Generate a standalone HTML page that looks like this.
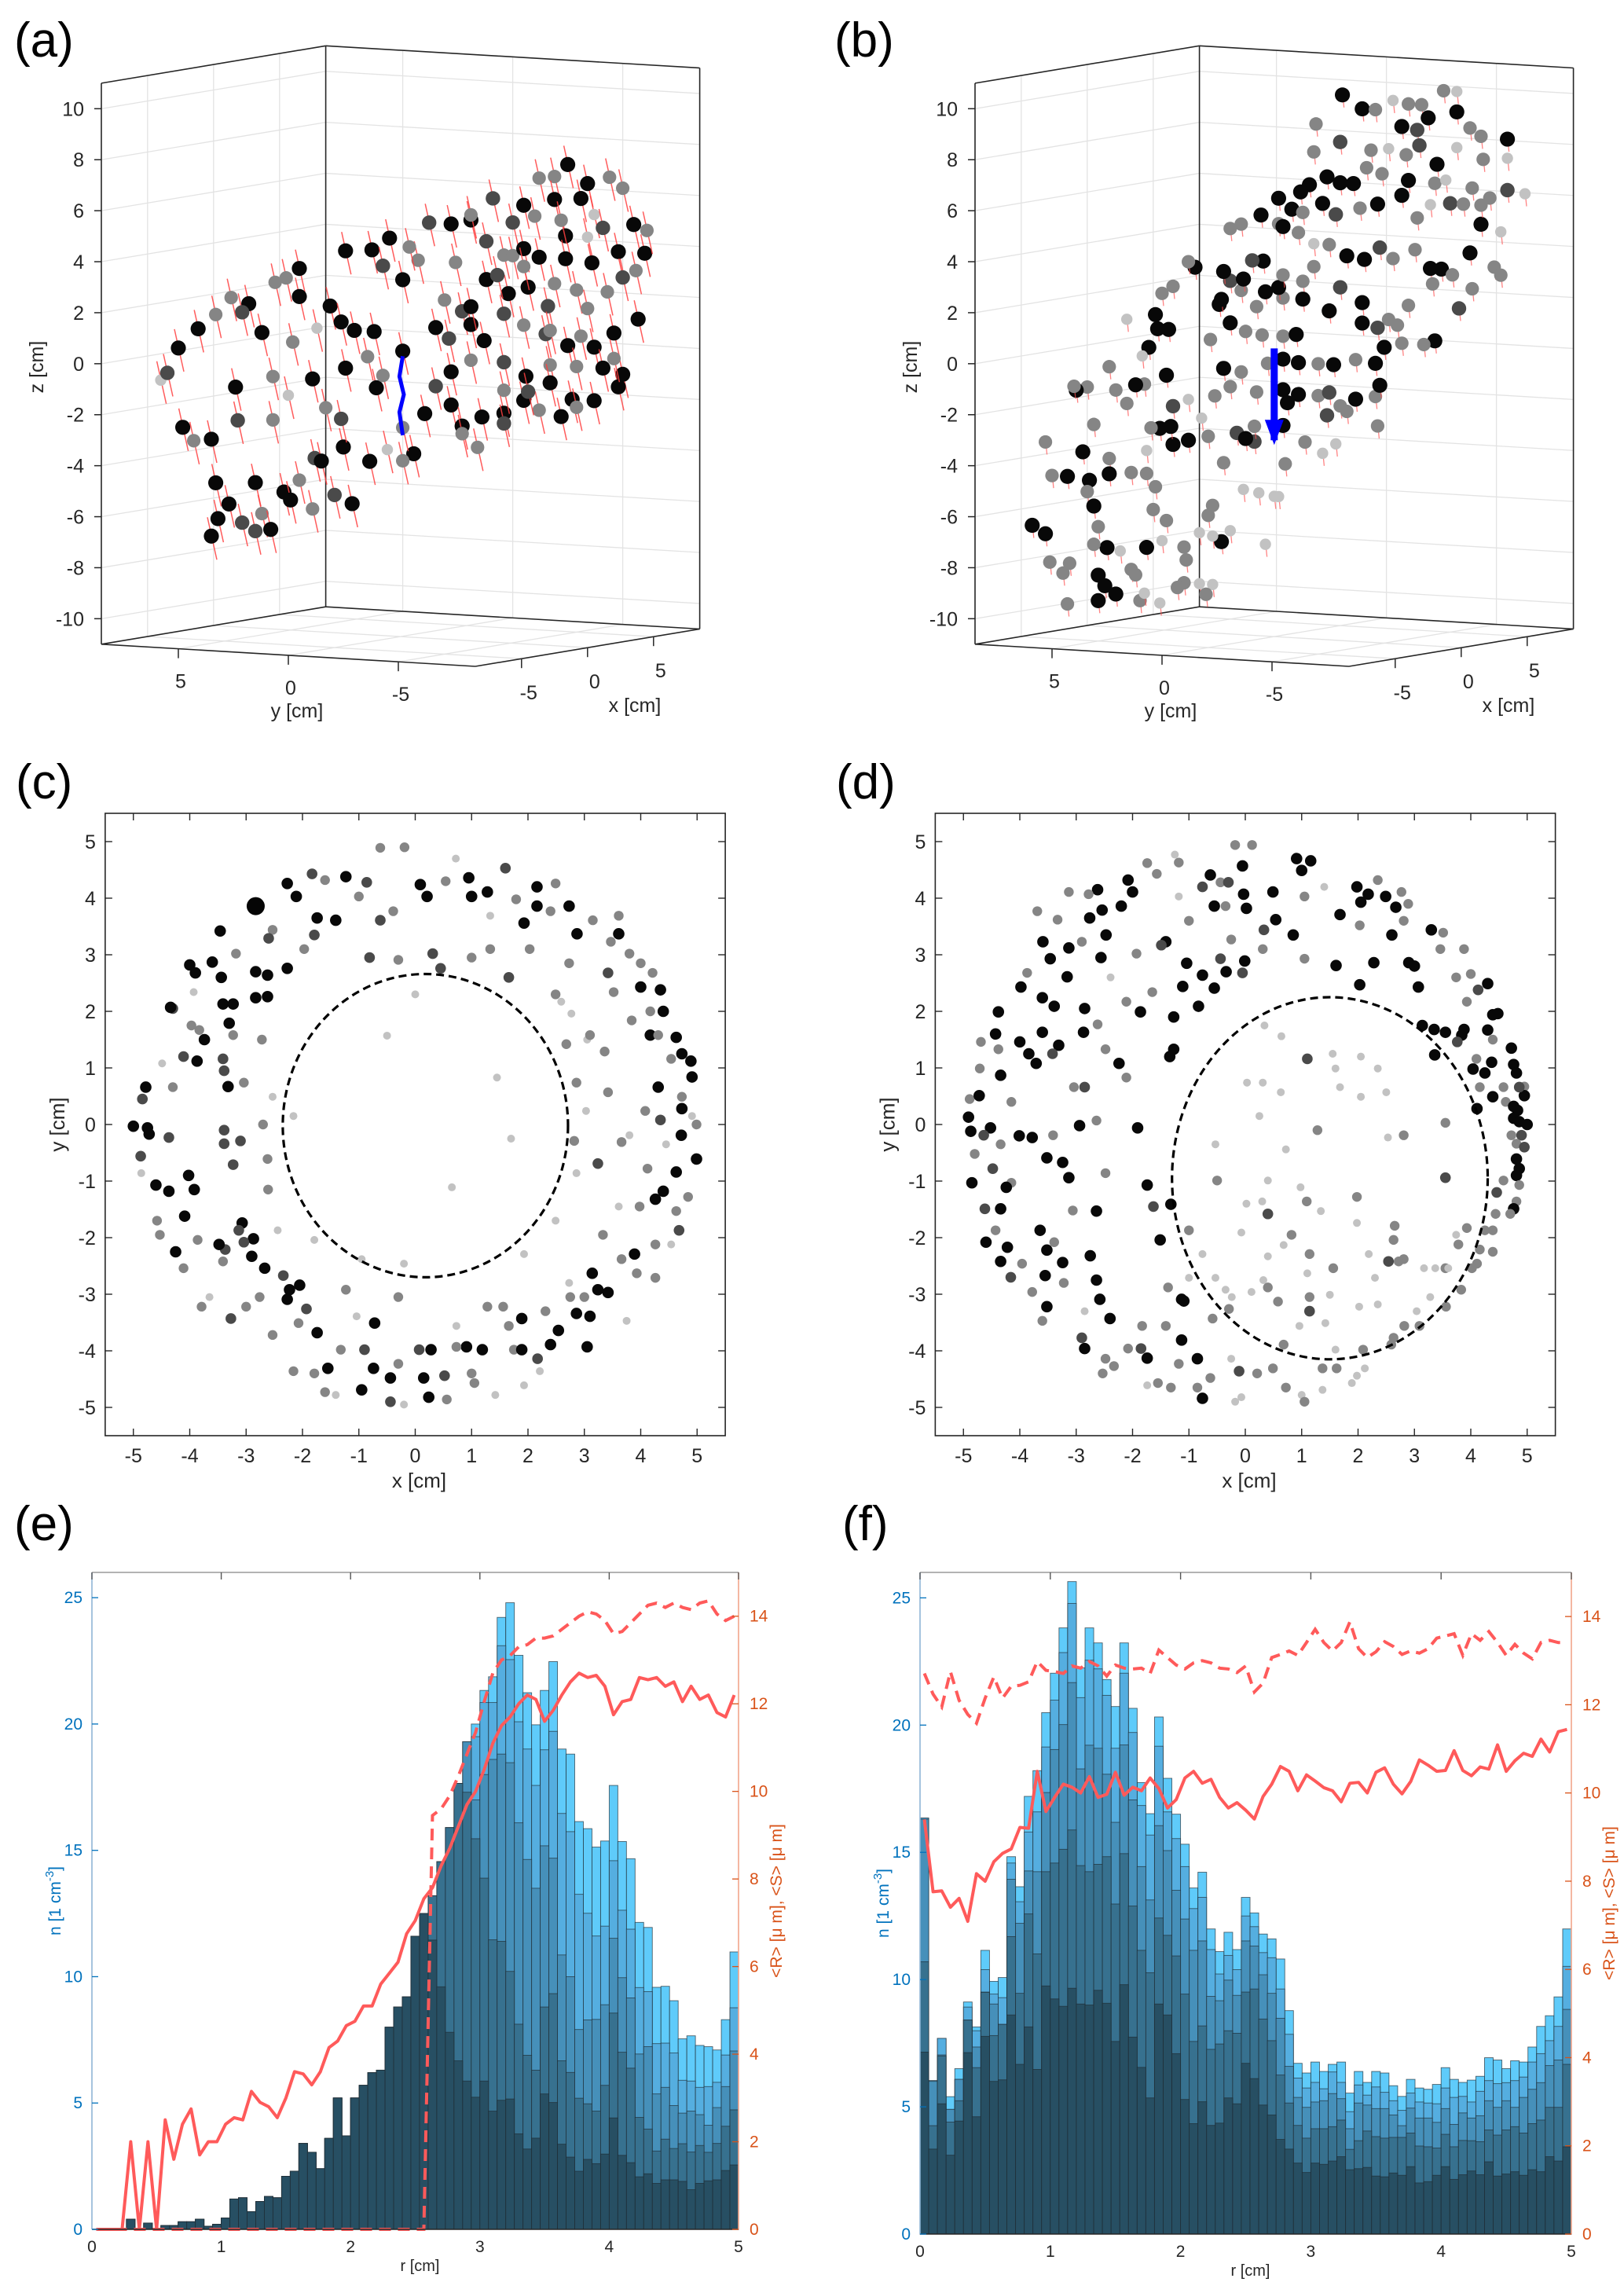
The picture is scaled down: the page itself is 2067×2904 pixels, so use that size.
<!DOCTYPE html>
<html><head><meta charset="utf-8"><title>Figure</title>
<style>html,body{margin:0;padding:0;background:#fff}svg{display:block;font-family:"Liberation Sans",sans-serif}</style>
</head><body>
<svg id="fig" xmlns="http://www.w3.org/2000/svg" width="2067" height="2904" viewBox="0 0 2067 2904"></svg>
<script>
// ---------- DATA ----------
const shadeColors=['#080808','#4a4a4a','#858585','#c2c2c2'];
// panel (a): [y, z, shade] with x = 0
const ptsA=[[10.9,-1.5,3],[10.6,-1.2,1],[10.1,-0.2,0],[9.9,-3.3,0],[9.4,-3.8,2],[9.2,0.6,0],[8.6,-3.7,0],[8.4,-5.4,0],[8.6,-7.5,0],[8.3,-6.8,0],[7.8,-6.2,0],[7.5,-1.6,0],[7.4,-2.9,1],[7.2,-6.9,1],[6.6,-5.3,0],[6.6,-7.2,1],[6.3,-6.5,2],[5.9,-7.1,0],[6.3,0.6,0],[6.9,1.7,0],[7.2,1.35,1],[7.7,1.9,2],[8.4,1.2,2],[5.8,-1.1,2],[5.3,-5.6,0],[5.0,-5.9,0],[4.6,-5.1,2],[4.0,-6.2,2],[3.9,-4.2,1],[4.0,-1.1,0],[4.6,3.2,0],[5.2,2.8,2],[5.7,2.6,2],[5.8,-2.8,2],[4.6,2.1,0],[3.8,0.9,3],[3.2,1.8,0],[3.6,-4.3,0],[3.0,-5.6,1],[2.2,-5.9,0],[2.6,-3.7,0],[2.7,-2.6,1],[3.4,-2.2,2],[4.9,0.3,2],[5.1,-1.8,3],
[2.5,4.0,0],[1.3,4.1,0],[0.5,4.6,0],[0.8,3.5,1],[-0.1,3.0,0],[2.7,1.2,0],[2.1,0.9,0],[1.2,0.9,0],[2.5,-0.6,0],[1.5,-0.1,2],[1.1,-1.3,0],[0.8,-0.8,2],[-0.1,0.2,0],[-0.6,-3.8,0],[-1.1,-2.2,0],[-0.1,-2.8,2],[0.6,-3.7,3],[1.4,-4.2,0],[-0.1,-4.1,2],[-1.6,1.2,0],[-2.2,0.8,1],[-2.3,-0.5,0],[-1.6,-1.1,1],[-2.3,-1.8,0],[-2.8,-2.6,0],[-2.0,2.3,2],[-2.8,1.9,1],[-3.2,1.4,0],[-0.8,3.8,2],[-1.3,5.3,1],[-2.3,5.3,0],[-3.2,5.5,0],[-3.9,4.7,1],[-4.7,4.2,2],
[-7.6,7.9,0],[-8.5,7.2,0],[-9.5,7.5,2],[-10.1,7.1,2],[-7.0,7.4,2],[-6.3,7.3,2],[-8.2,6.6,0],[-8.8,6.0,3],[-7.0,6.5,0],[-5.6,6.2,0],[-4.2,6.4,1],[-3.2,5.7,2],[-5.1,5.5,1],[-6.1,5.8,2],[-7.5,5.1,0],[-8.5,5.1,3],[-9.9,4.6,0],[-10.6,5.7,0],[-11.1,4.6,0],[-11.2,5.5,2],[-10.7,3.9,2],[-10.1,3.6,1],[-8.7,4.1,0],[-7.5,4.2,0],[-6.3,4.2,0],[-5.1,4.2,2],[-3.9,3.2,0],[-4.9,2.7,0],[-5.8,3.0,0],[-7.0,3.2,2],[-8.0,3.0,2],[-9.4,3.0,2],[-10.8,2.0,0],[-9.7,1.4,0],[-8.8,0.8,0],[-7.6,0.8,0],[-6.6,1.2,1],[-5.6,1.5,2],[-4.7,1.9,1],[-3.2,2.1,0],[-3.8,0.8,0],[-4.7,0.0,1],[-5.7,-0.5,0],[-6.8,0.0,2],[-8.0,0.0,2],[-9.2,0.0,0],[-10.1,-0.2,0],[-9.9,-0.7,0],[-8.8,-1.3,0],[-7.8,-1.3,0],[-6.8,-0.7,0],[-5.6,-1.45,0],[-4.7,-2.0,0],[-3.7,-2.2,0],[-2.8,-2.9,2],[-3.5,-3.4,2],[-4.7,-2.4,1],[-6.3,-1.8,2],[-7.3,-2.0,0],[-8.0,-1.6,2],[-5.8,-1.1,1],[-4.7,-1.1,2],[-4.4,3.4,1],[-6.7,2.3,1],[-5.6,4.5,0],[-7.3,5.7,2],[-9.2,5.5,1],[-5.6,3.8,2],[-8.5,2.3,2],[-3.2,0.0,2],[-6.8,1.35,2],[-8.2,1.2,2],[-9.7,0.4,2],[-2.5,3.8,2],[-0.4,4.3,2]];
const blueA_y=[-0.1,0.05,-0.15,0.05,-0.1];
const blueA_z=[0.0,-0.8,-1.5,-2.2,-3.1];
// panel (b): [y, z, shade] with x = 0
const ptsB=[[-3.1,10.4,0],[-4.0,9.9,0],[-4.6,9.9,2],[-5.4,10.3,3],[-6.1,10.2,2],[-6.7,10.2,2],[-7.0,9.7,0],[-5.8,9.3,0],[-6.5,9.2,1],[-7.7,10.8,2],[-8.3,10.8,3],[-8.3,10.0,0],[-8.9,9.4,2],[-9.4,9.1,2],[-10.6,9.05,0],[-10.6,8.3,3],[-9.5,8.2,2],[-8.3,8.6,3],[-7.4,7.9,0],[-6.6,8.6,1],[-6.0,8.2,2],[-5.2,8.4,3],[-4.4,8.3,2],[-3.0,8.55,1],[-1.8,8.1,2],[-1.9,9.2,2],[-4.2,7.6,2],[-4.9,7.4,2],[-6.1,7.2,0],[-7.3,7.15,2],[-7.8,7.3,3],[-9.0,7.05,2],[-9.8,6.7,2],[-11.4,6.95,3],[-10.6,7.05,1],[-3.6,6.95,0],[-3.0,6.95,0],[-2.4,7.15,0],[-1.6,6.8,0],[-1.2,6.5,0],[-2.2,6.1,0],[-2.8,5.7,1],[-3.9,6.0,2],[-4.7,6.2,0],[-5.8,6.6,0],[-6.5,5.75,2],[-7.1,6.3,3],[-8.0,6.4,1],[-8.6,6.4,2],[-9.4,5.65,0],[-9.4,6.4,2],[-10.3,5.4,3],[-0.8,5.8,0],[-0.2,6.2,0],[0.6,5.5,0],[-0.2,5.2,2],[-0.4,5.1,0],[-1.3,5.7,2],[-1.1,4.9,2],[-1.8,4.5,3],[-2.5,4.5,2],[-3.3,4.1,0],[-4.1,4.0,0],[-4.8,4.5,1],[-5.4,4.1,2],[-6.4,4.5,2],[-7.1,3.8,0],[-7.6,3.8,0],[-8.1,3.6,2],[-8.9,4.5,0],[-9.0,3.1,2],[-10.0,4.0,2],[-10.3,3.7,2],[-8.4,2.3,1],[-7.2,3.2,2],[-6.1,2.3,2],[-5.2,1.7,2],[-4.0,2.3,0],[-3.0,2.85,1],[-1.8,3.6,2],[-1.3,3.0,2],[-0.4,2.3,2],[-1.3,2.3,0],[-2.5,1.9,0],[-4.0,1.5,0],[-4.7,1.35,1],[-5.6,1.5,2],[-7.3,0.97,0],[-6.8,0.8,2],[-5.8,0.8,2],[-5.0,0.6,0],[-4.6,-0.05,0],[-3.7,0.05,2],[-2.7,-0.2,0],[-2.0,-0.2,2],[-1.1,-0.2,0],[-0.4,-0.1,0],[-0.4,0.8,2],[-1.0,0.9,0],[0.55,0.8,2],[1.3,0.9,2],[2.0,1.2,0],[2.5,1.9,0],[2.4,2.1,0],[0.4,2.5,0],[-0.2,2.7,0],[0.8,1.9,2],[1.5,2.5,2],[2.0,2.85,1],[2.3,3.2,0],[1.4,2.95,0],[0.5,3.7,0],[1.0,3.7,1],[-0.4,3.2,2],[2.0,4.9,2],[1.5,5.1,2],[3.6,3.3,0],[3.9,3.5,2],[5.1,2.2,2],[4.6,2.5,2],[5.4,1.35,0],[5.3,0.8,0],[4.8,0.8,0],[5.7,0.05,0],[6.7,1.1,3],[2.9,0.5,2],[2.3,-0.6,0],[2.0,-1.3,2],[1.5,-0.7,2],[0.8,-1.45,2],[0.3,-0.3,2],[-0.4,-1.3,0],[-0.6,-1.8,0],[-1.1,-1.45,0],[-2.0,-1.45,2],[-2.5,-1.3,1],[-3.0,-1.8,2],[-3.7,-1.5,0],[-4.6,-1.35,2],[-4.8,-0.9,0],[-4.7,-2.5,2],[-2.4,-2.2,1],[-3.3,-2.0,2],[-1.4,-3.3,2],[-2.2,-3.7,3],[-2.8,-3.3,3],[-0.5,-4.2,2],[0.7,-5.4,3],[0.0,-5.5,3],[0.9,-3.4,1],[1.7,-3.1,1],[1.3,-3.3,0],[-0.4,-2.7,0],[0.9,-2.8,2],[3.0,-3.3,2],[2.3,-4.3,2],[2.7,-1.7,2],[3.3,-2.6,3],[3.9,-1.9,3],[3.9,-3.5,0],[4.6,-3.7,0],[4.7,-3.0,0],[5.2,-3.1,0],[5.6,-3.1,2],[5.8,-4.0,3],[4.6,-2.2,1],[4.9,-1.0,0],[5.9,-1.4,2],[6.3,-1.45,0],[6.7,-2.2,2],[7.2,-1.7,2],[8.5,-1.65,2],[9.0,-1.8,0],[9.1,-1.65,2],[7.5,-0.8,2],[6.0,-0.3,3],[8.2,-3.1,2],[8.7,-4.2,0],[10.1,-5.2,2],[10.4,-3.9,2],[9.4,-5.2,0],[8.4,-5.3,0],[8.5,-5.75,2],[8.2,-6.3,0],[8.0,-7.1,2],[7.5,-4.4,2],[7.5,-5.0,0],[6.5,-4.9,2],[5.8,-4.9,2],[5.4,-5.4,2],[5.5,-6.3,2],[4.9,-6.7,2],[4.1,-7.7,2],[4.0,-8.2,2],[5.8,-7.8,0],[5.1,-7.5,3],[7.6,-7.9,0],[8.2,-7.8,2],[7.0,-8.0,3],[11.0,-7.2,0],[10.4,-7.5,0],[10.2,-8.6,2],[9.6,-9.0,2],[9.3,-8.6,2],[8.0,-9.0,0],[7.7,-9.4,0],[7.2,-9.7,0],[8.0,-10.0,0],[9.4,-10.2,2],[6.5,-8.7,2],[6.3,-8.9,2],[6.1,-9.9,2],[5.9,-9.6,3],[5.2,-9.95,3],[4.1,-9.1,2],[4.4,-9.3,2],[3.4,-9.1,3],[2.8,-9.1,3],[3.1,-9.5,2],[2.4,-7.4,0],[2.8,-7.2,3],[3.4,-7.1,3],[2.8,-6.0,2],[3.0,-6.4,2],[2.0,-6.95,3],[0.4,-7.4,3],[-0.2,-5.5,3],[1.4,-5.3,3]];
const blueB_y=[0.0,0.0];
const blueB_z=[0.3,-3.3];
// panel (c): [x, y, shade]
const ptsC=[[-2.27,4.26,0],[-2.11,4.03,0],[-1.83,4.43,1],[-1.23,4.38,0],[-0.86,4.28,1],[-0.62,4.89,2],[-0.19,4.9,2],[0.09,4.24,0],[0.21,4.03,0],[0.72,4.7,3],[0.95,4.36,0],[1.0,4.03,0],[1.28,4.11,0],[1.6,4.53,1],[1.79,3.98,2],[1.93,3.56,0],[2.16,4.2,0],[2.49,4.26,2],[2.16,3.86,0],[2.73,3.86,0],[2.87,3.37,0],[3.15,3.61,2],[3.61,3.37,0],[3.47,3.23,2],[3.8,3.02,2],[4.0,2.85,2],[4.0,2.43,0],[4.35,2.38,0],[4.4,2.0,0],[4.17,2.0,2],[3.84,1.84,2],[4.17,1.58,0],[4.63,1.54,0],[4.73,1.25,0],[4.89,1.12,0],[4.91,0.84,0],[4.31,0.66,0],[4.73,0.28,0],[4.99,0.0,2],[4.72,-0.19,0],[4.99,-0.61,0],[4.63,-0.84,0],[4.4,-1.18,0],[4.26,-1.32,0],[3.98,-1.45,2],[3.89,-2.29,0],[3.93,-2.63,2],[3.42,-2.97,0],[3.14,-2.63,0],[3.24,-2.92,0],[3.0,-3.05,2],[3.1,-3.39,0],[2.86,-3.34,0],[2.54,-3.64,0],[2.4,-3.89,0],[3.05,-3.93,0],[2.17,-4.14,1],[1.89,-3.98,0],[1.89,-3.43,0],[1.19,-3.98,0],[0.91,-3.93,0],[0.73,-3.93,2],[0.52,-4.44,1],[0.15,-4.48,0],[0.24,-4.82,0],[0.56,-4.86,2],[0.28,-3.98,0],[0.07,-3.98,1],[-0.44,-4.9,1],[-0.44,-4.48,0],[-0.95,-4.69,0],[-0.74,-4.31,0],[-0.9,-3.98,1],[-0.72,-3.51,0],[-1.55,-4.31,0],[-1.74,-3.68,0],[-2.07,-3.51,2],[-1.93,-3.26,1],[-2.27,-3.09,0],[-2.23,-2.92,0],[-2.05,-2.84,0],[-2.34,-2.67,1],[-2.67,-2.54,0],[-2.9,-2.33,0],[-2.87,-2.02,0],[-3.07,-1.74,0],[-3.13,-1.87,1],[-3.37,-2.21,1],[-3.48,-2.12,0],[-4.25,-2.25,0],[-4.09,-1.62,0],[-4.02,-0.9,0],[-3.92,-1.15,0],[-4.37,-1.18,0],[-4.6,-1.07,0],[-4.87,-0.56,1],[-4.72,-0.17,0],[-5.0,-0.03,0],[-4.75,-0.06,0],[-4.84,0.45,1],[-4.78,0.66,0],[-4.37,-0.23,1],[-3.39,-0.1,1],[-3.39,-0.34,1],[-3.23,-0.71,1],[-3.1,-0.29,1],[-3.32,0.67,0],[-3.39,0.95,1],[-3.41,1.16,1],[-3.74,1.5,0],[-3.87,1.12,0],[-4.11,1.2,1],[-4.3,2.05,1],[-4.34,2.07,0],[-3.97,1.75,2],[-3.41,2.13,0],[-3.23,2.13,0],[-3.3,1.79,0],[-3.44,2.6,0],[-3.6,2.87,0],[-4.0,2.82,0],[-3.9,2.68,0],[-3.46,3.42,0],[-2.83,2.7,0],[-2.83,2.24,0],[-2.62,2.64,0],[-2.62,2.26,0],[-2.27,2.76,0],[-2.6,3.29,1],[-1.79,3.35,1],[-1.74,3.65,0],[-1.41,3.61,0],[-0.62,3.61,1],[-0.3,2.91,2],[-0.81,2.95,1],[-2.72,1.5,2],[-3.04,0.74,2],[-2.62,-0.61,2],[-2.61,-1.15,2],[-3.04,-2.08,1],[-3.41,-2.42,2],[-3.86,-2.04,2],[-4.53,-1.95,2],[-3.79,-3.22,2],[-3.27,-3.43,1],[-2.76,-3.05,2],[-1.23,-2.92,2],[-1.04,-3.39,3],[-0.3,-3.05,2],[-0.3,-4.23,2],[1.56,-3.22,2],[1.28,-3.22,2],[1.66,-3.56,2],[2.31,-3.3,2],[2.75,-3.05,2],[3.66,-2.38,2],[4.26,-2.12,2],[4.54,-2.12,3],[4.68,-1.87,1],[4.84,-1.28,2],[4.12,-0.78,2],[4.08,0.24,2],[4.35,0.08,1],[3.42,0.57,2],[3.03,0.24,3],[2.82,-0.29,2],[3.24,-0.69,1],[3.66,-0.31,2],[2.86,0.74,2],[3.1,1.58,2],[3.36,1.29,2],[2.68,1.42,2],[2.77,1.96,3],[2.49,2.3,2],[2.73,2.85,2],[2.03,3.1,2],[1.66,2.6,1],[1.33,3.1,2],[1.0,2.95,2],[0.45,2.76,1],[0.31,3.02,1],[3.42,2.68,1],[4.31,1.58,2],[4.73,0.49,2],[-1.79,-4.4,2],[-2.16,-4.36,2],[-1.41,-4.78,3],[1.05,-4.57,2],[1.42,-4.78,3],[2.21,-4.36,3],[1.93,-4.61,3],[-0.2,-4.95,3],[-0.5,1.57,3],[1.45,0.83,3],[1.7,-0.25,3],[0.65,-1.11,3],[0.0,2.3,3]];
const ptsC2=[[-1.6,4.32,2],[-1.0,4.03,2],[-0.39,3.77,2],[0.54,4.3,2],[1.33,3.69,3],[2.4,3.77,2],[3.61,3.69,2],[4.21,2.68,2],[4.54,1.16,2],[4.91,0.15,3],[4.45,-0.35,3],[4.63,-1.53,2],[3.61,-1.45,3],[3.33,-1.95,2],[4.26,-2.71,2],[3.75,-3.47,3],[2.73,-2.8,3],[1.75,-3.98,2],[0.73,-3.56,3],[1.0,-4.4,2],[-1.32,-3.98,2],[-1.6,-4.73,2],[-2.53,-3.72,2],[-3.0,-3.22,2],[-3.65,-3.05,3],[-4.11,-2.54,2],[-4.58,-1.7,2],[-4.86,-0.86,3],[-4.3,0.66,2],[-4.49,1.08,3],[-3.83,1.67,2],[-3.23,1.58,2],[-3.93,2.34,3],[-3.18,3.02,2],[-2.53,3.44,2],[-1.97,3.1,2],[-2.16,0.15,3],[-2.53,0.49,3],[-2.7,0.0,2],[-2.44,-1.87,3],[-1.79,-2.04,3],[-0.95,-2.38,3],[-0.2,-2.46,3],[1.93,-2.29,3],[2.49,-1.7,3],[2.86,-0.86,3],[3.05,1.5,3],[2.59,2.17,3],[3.52,2.34,2],[3.8,-0.19,3]];
const bigC=[[-2.83,3.86]];
const ellC_center=[0.18,-0.02], ellC_radii=[2.53,2.68];
// panel (d): [x, y, shade]
const ptsD=[[-0.18,4.94,2],[0.12,4.94,2],[0.91,4.7,0],[1.0,4.49,0],[1.16,4.66,0],[0.49,4.11,0],[-0.03,4.07,0],[0.02,3.82,0],[-0.05,4.57,0],[-0.62,4.41,0],[-0.3,4.28,1],[-0.76,4.2,1],[-0.55,3.86,0],[-1.25,4.77,3],[-1.18,4.63,2],[-1.57,4.43,2],[-2.08,4.32,0],[-2.0,4.11,0],[-2.2,3.86,0],[-2.62,4.15,0],[-2.78,4.07,2],[-2.54,3.79,0],[-2.76,3.65,0],[-3.33,3.62,2],[-3.59,3.23,0],[-3.13,3.12,0],[-3.46,2.93,0],[-2.9,3.23,2],[-2.47,3.35,0],[-2.56,2.95,0],[-3.6,2.24,0],[-3.39,2.09,0],[-3.16,2.61,0],[-2.85,2.05,0],[-2.62,1.77,2],[-2.87,1.63,0],[-3.31,1.4,0],[-3.6,1.63,0],[-4.0,1.46,0],[-3.84,1.25,0],[-3.71,1.08,0],[-3.42,1.25,1],[-3.98,2.43,0],[-4.38,1.99,0],[-4.43,1.6,0],[-4.69,1.46,2],[-4.89,0.45,2],[-4.91,0.13,0],[-4.87,-0.12,0],[-4.72,0.51,0],[-4.52,-0.06,0],[-4.34,0.87,0],[-4.15,0.4,2],[-4.01,-0.2,0],[-4.85,-1.03,0],[-4.64,-0.19,1],[-4.48,-0.78,1],[-4.24,-1.11,0],[-4.62,-1.49,1],[-4.6,-2.08,0],[-4.34,-1.49,0],[-4.22,-2.17,0],[-4.34,-2.42,0],[-4.16,-2.7,1],[-3.64,-1.87,0],[-3.52,-2.22,0],[-3.55,-2.67,0],[-3.52,-3.22,0],[-3.24,-2.44,0],[-3.13,-0.94,0],[-3.24,-0.67,0],[-3.52,-0.59,0],[-3.78,-0.23,0],[-2.94,-0.02,0],[-2.64,0.07,2],[-2.85,0.66,1],[-3.39,-2.08,2],[-3.06,-1.52,2],[-2.64,-1.53,0],[-2.75,-2.32,0],[-2.64,-2.75,0],[-2.58,-3.09,0],[-2.4,-3.43,0],[-2.9,-3.77,1],[-2.85,-3.96,0],[-3.6,-3.47,2],[-2.08,-3.96,2],[-1.85,-3.96,1],[-1.74,-4.13,0],[-2.33,-4.27,2],[-1.41,-3.56,2],[-1.13,-3.09,0],[-1.09,-3.12,0],[-0.85,-4.14,0],[-0.85,-4.65,2],[-0.76,-4.84,0],[-0.62,-4.48,2],[-0.11,-4.36,1],[-1.13,-3.81,0],[-1.51,-2.04,0],[-1.74,-1.07,0],[-1.32,-1.41,0],[-1.63,-1.45,1],[-1.91,-0.06,0],[-1.34,1.2,0],[-1.27,1.33,0],[-2.24,1.08,0],[-1.86,1.99,0],[-1.27,1.9,0],[-1.11,2.44,0],[-0.76,2.64,0],[-0.83,2.09,0],[-0.55,2.41,0],[-0.34,2.7,0],[-0.01,2.89,0],[-0.05,2.68,1],[-0.44,2.93,1],[-1.41,3.23,0],[-1.49,3.17,1],[-1.04,2.85,0],[0.54,3.62,0],[0.85,3.35,0],[0.33,3.44,1],[0.31,3.1,2],[1.05,2.93,2],[1.61,2.81,0],[1.98,4.2,0],[2.18,4.07,0],[2.05,3.93,0],[2.49,4.03,0],[2.67,3.84,0],[2.35,4.32,2],[2.77,4.11,2],[2.89,3.9,2],[1.68,3.71,0],[2.03,3.52,2],[2.28,2.86,0],[2.03,2.47,0],[2.6,3.35,0],[2.9,2.86,0],[3.0,2.8,0],[3.07,2.43,0],[3.3,3.44,0],[3.51,3.39,2],[3.88,3.1,2],[4.0,2.66,2],[4.3,2.49,0],[4.13,2.38,1],[3.14,1.75,0],[3.35,1.68,0],[3.55,1.63,0],[3.84,1.58,0],[3.88,1.68,0],[3.36,1.23,0],[3.76,1.46,1],[4.1,1.16,2],[4.04,0.98,0],[4.3,1.67,0],[4.39,1.94,0],[4.48,1.96,0],[4.25,0.91,0],[4.37,1.1,0],[4.72,1.35,0],[4.76,1.06,0],[4.81,0.91,0],[4.95,0.67,2],[4.95,0.51,0],[4.86,0.66,1],[4.39,0.49,0],[4.62,0.4,2],[4.76,0.32,0],[4.83,0.25,0],[5.0,0.0,0],[4.76,0.11,0],[4.86,0.05,0],[4.9,-0.19,1],[4.72,-0.19,2],[4.81,-0.34,2],[4.95,-0.4,1],[4.81,-0.61,0],[4.86,-0.78,0],[4.81,-0.9,0],[4.86,-1.07,2],[4.58,-0.99,2],[4.46,-1.2,1],[4.81,-1.36,2],[4.76,-1.49,0],[4.7,-1.58,2],[4.44,-1.58,2],[4.11,0.28,0],[4.16,0.66,2],[3.55,0.03,2],[3.93,-1.83,2],[4.11,-2.46,2],[4.16,-2.21,2],[3.74,-1.95,3],[3.78,-2.12,2],[4.25,-1.87,2],[4.39,-2.25,2],[4.02,-2.54,2],[3.83,-2.92,2],[3.6,-2.54,3],[3.37,-2.54,3],[3.17,-2.54,3],[3.28,-3.05,3],[3.56,-3.22,2],[3.04,-3.3,3],[2.82,-3.56,2],[2.63,-3.77,2],[2.59,-3.89,2],[2.81,-2.38,2],[2.65,-1.79,2],[2.54,-2.42,1],[2.72,-2.42,2],[0.34,1.75,3],[0.64,1.56,3],[1.1,1.16,1],[1.55,1.25,3],[2.05,1.2,3],[1.68,0.66,3],[1.28,-0.1,2],[0.63,0.57,3],[0.31,0.74,3],[0.03,0.74,3],[0.25,0.15,3],[0.72,-0.44,3],[0.4,-0.99,3],[0.3,-1.36,3],[0.4,-1.58,1],[0.98,-1.11,3],[1.09,-1.36,2],[1.34,-1.53,3],[1.98,-1.74,3],[1.98,-1.28,2],[2.19,-2.29,3],[2.63,-2.04,2],[2.81,-0.19,2],[2.53,-0.23,3],[3.55,-0.94,1],[2.5,0.57,3],[2.05,0.49,3],[1.6,0.99,3],[2.35,0.99,3],[0.82,-1.95,2],[0.68,-2.13,3],[1.14,-2.29,2],[1.56,-2.54,2],[1.1,-2.63,3],[1.5,-3.01,3],[1.14,-3.05,2],[1.14,-3.3,1],[0.58,-3.13,2],[0.96,-3.56,3],[1.42,-3.51,3],[2.02,-3.22,3],[2.35,-3.18,3],[2.3,-2.71,3],[-0.29,-3.26,2],[-0.35,-2.92,3],[-0.24,-3.05,3],[0.11,-2.96,3],[0.4,-2.88,2],[-0.58,-3.43,2],[-0.53,-2.71,3],[-1.0,-2.71,3],[-0.76,-2.29,3],[-0.5,-0.99,2],[-0.53,-0.35,3],[0.02,-1.4,3],[-0.07,-1.91,3],[0.4,-2.33,3],[0.32,-2.75,3],[0.49,-4.31,2],[0.72,-4.65,2],[1.0,-4.78,3],[1.05,-4.9,2],[1.37,-4.69,3],[1.62,-4.31,2],[1.98,-4.44,3],[2.12,-4.31,3],[1.89,-4.57,3],[1.37,-4.31,2],[-0.07,-4.82,3],[-0.18,-4.9,3],[-1.32,-4.65,2],[-1.74,-4.61,3],[-2.53,-4.4,2]];
const ptsD2=[[-0.44,4.28,2],[-1.18,4.03,3],[-1.74,4.62,2],[-3.13,4.11,2],[-3.69,3.77,2],[-3.87,2.68,2],[-4.38,1.33,2],[-4.71,0.99,2],[-4.8,-0.52,2],[-4.34,-0.35,2],[-4.15,-1.03,2],[-4.43,-1.87,2],[-3.96,-2.46,2],[-3.78,-2.96,2],[-3.22,-2.8,2],[-2.85,-3.3,3],[-2.48,-4.14,2],[-1.83,-3.56,2],[-1.55,-4.57,2],[-1.18,-4.23,2],[-2.11,0.83,2],[-2.48,1.33,2],[-2.11,2.17,2],[-1.65,2.34,2],[-2.39,2.6,3],[-1.93,3.02,2],[-1.0,3.6,2],[-0.25,3.27,2],[-0.35,3.86,2],[1.05,4.03,2],[1.4,4.2,3],[2.81,3.6,2],[3.46,3.1,2],[3.74,2.6,2],[3.93,2.17,2],[4.39,1.5,2],[4.58,0.66,2],[4.39,-1.87,2],[3.55,-2.54,2],[3.09,-3.56,2],[2.09,-3.98,2],[1.6,-3.98,3],[0.68,-3.89,2],[0.21,-4.4,2],[-0.25,-4.14,3],[-1.37,-2.88,2],[-1.0,-1.87,2],[-2.48,-0.86,2],[-3.41,-0.19,2],[-3.04,0.66,2]];
const ellD_center=[1.5,-0.95], ellD_radii=[2.8,3.2];
const scatterTicks=[-5,-4,-3,-2,-1,0,1,2,3,4,5];
const ticks3Dz=[-10,-8,-6,-4,-2,0,2,4,6,8,10];
const ticks3Dxy=[-5,0,5];
// histogram (e): 5 cumulative layers (L0 darkest)
const eLow=[0,0,0,0,0.4,0,0.25,0,0.15,0.15,0.3,0.3,0.4,0.12,0.2,0.45,1.2,1.25,0.7,1.1,1.3,1.25,2.1,2.3,3.4,3.05,2.4,3.6,5.2,3.7,5.2,5.7,6.2,6.3,8.0,8.8,9.2,11.6,12.5];
const eL4tail=[13.2,14.55,15.9,17.65,19.3,20.0,21.33,21.87,24.22,24.8,22.72,21.24,19.97,21.33,22.47,19.01,18.81,16.14,15.86,15.13,15.37,17.57,15.35,14.67,12.15,11.95,9.58,9.62,9.05,7.54,7.66,7.28,7.23,7.1,8.3,10.98];
const eL3tail=[13.2,14.55,15.9,17.65,19.3,19.5,20.85,20.85,23.1,22.55,20.09,19.01,17.57,18.98,19.71,16.46,15.74,13.26,12.51,11.61,12.0,14.59,12.63,11.88,9.57,9.41,7.35,7.37,6.98,5.9,5.87,5.62,5.65,5.82,6.9,8.77];
const eL2tail=[13.2,14.55,15.9,17.65,19.3,17.0,18.0,18.6,18.81,18.47,16.09,14.64,13.5,15.18,14.69,10.86,10.0,7.91,8.29,8.31,8.89,11.52,9.96,9.16,6.94,7.23,5.36,5.62,4.9,4.6,4.68,4.54,4.12,4.82,5.65,7.06];
const eL1tail=[13.2,14.55,15.9,17.65,17.3,15.46,13.9,11.46,11.4,10.21,8.12,6.89,6.3,8.8,9.33,6.67,6.21,5.19,4.97,4.68,5.7,8.56,7.01,6.38,4.43,3.97,3.1,3.57,3.2,3.39,3.06,3.32,3.05,3.4,4.08,4.73];
const eL0tail=[11.45,9.6,7.8,6.67,5.87,5.23,5.87,4.68,5.11,5.16,3.78,3.18,3.61,5.36,5.02,3.37,2.86,2.3,2.77,2.6,2.98,4.41,2.93,2.64,2.08,2.2,1.82,1.96,1.96,1.9,1.57,1.82,1.92,1.96,2.33,2.55];
const eR=[0,0,0,0,2.0,0,2.0,0,2.5,1.6,2.4,2.75,1.7,2.0,2.0,2.4,2.55,2.5,3.15,2.9,2.8,2.55,3.0,3.6,3.55,3.3,3.6,4.15,4.3,4.65,4.75,5.1,5.1,5.6,5.85,6.1,6.75,7.05,7.55,7.8,8.3,8.7,9.2,9.7,10.0,10.5,11.1,11.5,11.7,12.0,12.2,12.1,11.6,11.85,12.2,12.5,12.7,12.6,12.65,12.4,11.75,12.05,12.1,12.6,12.55,12.6,12.4,12.5,12.05,12.4,12.1,12.2,11.8,11.7,12.2];
const eS=[0,0,0,0,0,0,0,0,0,0,0,0,0,0,0,0,0,0,0,0,0,0,0,0,0,0,0,0,0,0,0,0,0,0,0,0,0,0,0,9.45,9.6,9.9,10.35,10.85,11.35,12.05,12.7,13.0,13.1,13.3,13.35,13.5,13.5,13.55,13.7,13.85,14.0,14.1,14.05,13.9,13.6,13.65,13.85,14.05,14.25,14.3,14.2,14.3,14.2,14.15,14.3,14.35,14.05,13.9,14.0];
// histogram (f)
const fL4=[16.35,6.03,7.69,5.4,6.5,9.12,8.14,11.15,9.93,10.08,14.83,13.65,17.2,18.21,20.49,22.04,23.82,25.64,22.25,23.82,23.23,21.79,20.73,23.23,20.66,17.74,16.52,20.32,17.91,16.5,15.32,13.6,14.22,11.99,11.1,11.86,11.18,13.23,12.62,11.79,11.6,10.81,8.78,6.71,6.33,6.76,6.39,6.67,6.76,5.54,6.39,5.96,6.39,6.33,5.83,5.41,6.08,5.74,5.69,5.88,6.54,6.08,5.96,6.05,6.2,6.93,6.84,6.5,6.81,6.76,7.35,8.16,8.58,9.32,11.99];
const fL3=[16.35,6.03,7.69,4.9,6.08,8.92,7.99,10.39,9.43,9.29,14.58,13.06,15.8,16.59,19.14,20.98,22.85,24.78,21.08,22.55,22.21,21.17,19.09,22.04,19.71,16.84,15.68,19.17,16.59,15.54,14.44,12.79,13.23,11.18,10.22,10.95,10.39,12.5,12.08,11.06,10.86,9.63,7.85,6.13,5.74,5.96,5.71,6.37,5.96,4.81,5.86,5.46,5.78,5.57,5.24,4.86,5.54,5.19,5.15,5.12,5.74,5.37,5.41,5.19,5.61,6.03,5.91,5.95,6.03,6.17,6.76,7.09,7.6,8.16,10.52];
const fL2=[16.3,6.0,7.04,4.9,6.08,8.41,7.35,9.51,9.04,8.24,13.94,12.21,14.27,14.24,17.35,19.04,20.02,21.67,18.28,19.21,19.09,18.07,16.18,19.22,17.06,14.44,13.13,16.05,15.07,13.51,12.38,11.15,11.52,9.34,9.17,9.98,9.38,11.52,11.32,10.19,9.46,8.48,6.59,5.37,4.98,5.19,5.24,5.52,5.32,4.14,5.15,5.07,4.93,4.93,4.68,4.26,4.95,4.56,4.56,4.39,4.93,4.31,4.76,4.56,4.65,5.24,4.98,5.24,4.98,5.37,5.69,5.95,6.62,6.84,8.83];
const fL1=[10.7,4.26,7.0,4.4,5.24,8.41,6.54,9.5,7.8,8.24,11.69,9.46,12.58,11.01,14.24,14.58,15.12,15.88,14.48,14.24,14.53,14.83,12.97,14.95,12.89,11.15,10.27,12.42,11.74,10.93,9.43,7.57,8.18,7.26,7.47,7.99,7.89,9.51,9.63,8.45,7.6,6.25,5.15,4.27,3.77,4.14,4.14,4.22,4.48,3.33,3.67,4.05,3.83,3.77,3.8,3.8,3.97,3.46,3.43,3.38,3.92,3.43,3.68,3.67,3.63,4.09,3.89,4.09,4.22,3.97,4.34,4.48,4.98,4.98,6.67];
const fL0=[7.15,3.34,5.12,3.1,4.44,7.13,4.61,7.77,6.0,6.06,8.61,6.67,8.14,6.47,9.75,9.24,8.95,9.66,9.04,9.0,9.58,9.07,7.57,9.8,7.74,6.55,5.35,9.04,8.61,7.09,5.29,4.34,5.2,4.27,4.36,5.35,5.12,6.71,6.11,5.07,4.68,3.72,3.34,2.79,2.42,2.79,2.74,2.87,3.04,2.53,2.57,2.62,2.28,2.25,2.4,2.31,2.65,2.01,2.06,2.31,2.65,2.15,2.33,2.48,2.33,2.84,2.28,2.36,2.45,2.31,2.53,2.45,3.04,2.87,3.43];
const fR=[9.4,7.76,7.78,7.41,7.61,7.09,8.17,8.0,8.44,8.63,8.73,9.22,9.2,10.49,9.58,9.9,10.2,10.13,10.0,10.37,9.9,9.97,10.47,9.95,10.13,10.05,10.34,10.1,9.66,9.85,10.34,10.49,10.22,10.31,9.9,9.66,9.78,9.61,9.41,9.92,10.2,10.6,10.49,10.05,10.41,10.27,10.12,10.05,9.8,10.22,10.24,10.0,10.47,10.57,10.2,9.98,10.26,10.75,10.63,10.49,10.51,10.96,10.51,10.39,10.59,10.54,11.09,10.49,10.73,10.9,10.83,11.22,10.93,11.39,11.44];
const fS=[12.71,12.24,11.95,12.75,12.1,11.78,11.58,12.15,12.63,12.15,12.42,12.44,12.52,12.98,12.78,12.75,12.71,12.88,12.83,12.98,12.88,12.65,12.9,12.83,12.81,12.83,12.71,13.24,13.07,12.9,12.81,12.95,13.0,12.95,12.83,12.81,12.73,12.88,12.29,12.49,13.07,13.14,13.22,13.12,13.41,13.71,13.41,13.22,13.41,13.88,13.27,13.07,13.2,13.43,13.32,13.14,13.22,13.17,13.27,13.51,13.56,13.61,13.12,13.61,13.46,13.66,13.41,13.12,13.37,13.17,13.04,13.41,13.46,13.41,13.41];
const histLeftTicks=[0,5,10,15,20,25];
const histRightTicks=[0,2,4,6,8,10,12,14];
const histXTicks=[0,1,2,3,4,5];
const layerColors=['#274f63','#37718f','#4690ba','#55aee0','#5fcbfa'];

// ---------- HELPERS ----------
const NS='http://www.w3.org/2000/svg';
const svg=document.getElementById('fig');
function mk(tag,attrs,parent){const e=document.createElementNS(NS,tag);for(const k in attrs)e.setAttribute(k,attrs[k]);(parent||svg).appendChild(e);return e;}
function grp(name){const g=mk('g',{});return g;}
function txt(p,x,y,s,size,anchor,fill,rot){const a={x:x,y:y,'font-size':size,'text-anchor':anchor||'middle',fill:fill||'#262626'};if(rot)a.transform='rotate('+rot+' '+x+' '+y+')';const t=mk('text',a,p);t.textContent=s;return t;}
function line(p,x1,y1,x2,y2,st,w,extra){const a={x1:x1,y1:y1,x2:x2,y2:y2,stroke:st,'stroke-width':w};if(extra)for(const k in extra)a[k]=extra[k];return mk('line',a,p);}

// panel labels
[['(a)',18,72],['(b)',1062,72],['(c)',20,1016],['(d)',1064,1016],['(e)',18,1960],['(f)',1072,1960]].forEach(function(l){
  const t=txt(svg,l[1],l[2],l[0],62,'start','#000');
  
  
});

// ---------- 3D PANELS ----------
function draw3D(name,dx,pts,blueY,blueZ,longRed,thickArrow){
  const g=grp(name);
  const P=function(x,y,z){return [dx+509.8+16.8*x-28*y, 810.1-2.8*x-1.66*y-32.45*(z+11)];};
  const E=8.5, Z=11, gc='#e3e3e3', ec='#262626';
  const L=function(a,b,c,w){const p=P(a[0],a[1],a[2]),q=P(b[0],b[1],b[2]);return line(g,p[0],p[1],q[0],q[1],c,w);};
  ticks3Dxy.forEach(function(v){
    L([v,-E,-Z],[v,E,-Z],gc,1.3); L([-E,v,-Z],[E,v,-Z],gc,1.3);
    L([v,E,-Z],[v,E,Z],gc,1.3); L([E,v,-Z],[E,v,Z],gc,1.3);
  });
  ticks3Dz.forEach(function(v){L([-E,E,v],[E,E,v],gc,1.3);L([E,E,v],[E,-E,v],gc,1.3);});
  [[[-E,E,-Z],[-E,E,Z]],[[E,E,-Z],[E,E,Z]],[[E,-E,-Z],[E,-E,Z]],[[-E,E,Z],[E,E,Z]],[[E,E,Z],[E,-E,Z]],
   [[-E,E,-Z],[E,E,-Z]],[[E,E,-Z],[E,-E,-Z]],[[-E,E,-Z],[-E,-E,-Z]],[[-E,-E,-Z],[E,-E,-Z]]].forEach(function(s){L(s[0],s[1],ec,1.6);});
  ticks3Dz.forEach(function(v){const p=P(-E,E,v);line(g,p[0],p[1],p[0]-9,p[1],ec,1.5);txt(g,p[0]-22,p[1]+9,String(v),25,'end');});
  ticks3Dxy.forEach(function(v){const p=P(-E,v,-Z);line(g,p[0],p[1],p[0],p[1]+12,ec,1.5);txt(g,p[0]+3,p[1]+50,String(v),25,'middle');});
  ticks3Dxy.forEach(function(v){const p=P(v,-E,-Z);line(g,p[0],p[1],p[0],p[1]+12,ec,1.5);txt(g,p[0]+9,p[1]+52,String(v),25,'middle');});
  const yl=txt(g,dx+378,913,'y [cm]',25,'middle');
  const xl=txt(g,dx+808,906,'x [cm]',25,'middle');
  const zl=txt(g,dx+55,467,'z [cm]',25,'middle','#262626',-90);
  const rs=[9.6,9.2,8.6,7.2];
  const pg=mk('g',{},g);
  pts.forEach(function(d){
    const p=P(0,d[0],d[1]);
    if(longRed){line(pg,p[0]-5,p[1]-24,p[0]+7,p[1]+30,'#ff4040',1.5,{opacity:0.85});}
    else {line(pg,p[0]+1,p[1]+6,p[0]+2,p[1]+16,'#ff5050',1.3,{opacity:0.7});}
    mk('circle',{cx:p[0],cy:p[1],r:rs[d[2]],fill:shadeColors[d[2]]},pg);
  });
  const bp=blueY.map(function(y,i){return P(0,y,blueZ[i]).join(',');}).join(' ');
  const bl=mk('polyline',{points:bp,fill:'none',stroke:'#0000ff','stroke-width':thickArrow?9:5,'stroke-linejoin':'round'},g);
  
  if(thickArrow){const e=P(0,blueY[blueY.length-1],blueZ[blueZ.length-1]);
    const h=mk('polygon',{points:(e[0]-12)+','+(e[1]-26)+' '+(e[0]+12)+','+(e[1]-26)+' '+e[0]+','+(e[1]+6),fill:'#0000ff'},g);
    }
}
draw3D('panel-a-3d-scatter',0,ptsA,blueA_y,blueA_z,true,false);
draw3D('panel-b-3d-scatter',1112,ptsB,blueB_y,blueB_z,false,true);

// ---------- 2D SCATTER PANELS ----------
function drawScatter(name,x0,pts,ec,er,big){
  const g=grp(name);
  const sx=71.75, sy=72.0, y0=1431;
  const X=function(v){return x0+v*sx;}, Y=function(v){return y0-v*sy;};
  const pg=mk('g',{},g);
  const rs=[7.3,6.8,6.2,5.0];
  pts.forEach(function(d){mk('circle',{cx:X(d[0]),cy:Y(d[1]),r:rs[d[2]],fill:shadeColors[d[2]]},pg);});
  big.forEach(function(d){mk('circle',{cx:X(d[0]),cy:Y(d[1]),r:11.5,fill:'#050505'},pg);});
  const el=mk('ellipse',{cx:X(ec[0]),cy:Y(ec[1]),rx:er[0]*sx,ry:er[1]*sy,fill:'none',stroke:'#000','stroke-width':3.2,'stroke-dasharray':'10 6'},g);
  
  const L=X(-5.5),R=X(5.5),T=Y(5.5),B=Y(-5.5);
  mk('rect',{x:L,y:T,width:R-L,height:B-T,fill:'none',stroke:'#262626','stroke-width':1.6},g);
  scatterTicks.forEach(function(v){
    line(g,X(v),B,X(v),B-9,'#262626',1.4);line(g,X(v),T,X(v),T+9,'#262626',1.4);
    line(g,L,Y(v),L+9,Y(v),'#262626',1.4);line(g,R,Y(v),R-9,Y(v),'#262626',1.4);
    txt(g,X(v),B+34,String(v),25,'middle');
    txt(g,L-12,Y(v)+9,String(v),25,'end');
  });
  const xl=txt(g,X(0)+5,B+66,'x [cm]',26,'middle');
  const yl=txt(g,L-52,Y(0),'y [cm]',26,'middle','#262626',-90);
}
drawScatter('panel-c-xy-projection',528.5,ptsC2.concat(ptsC),ellC_center,ellC_radii,bigC);
drawScatter('panel-d-xy-projection',1585,ptsD2.concat(ptsD),ellD_center,ellD_radii,[]);

// ---------- HISTOGRAMS ----------
function drawHist(name,box,layers,R,S){
  const g=grp(name);
  const Lx=box[0],Rx=box[1],T=box[2],B=box[3];
  const X=function(v){return Lx+(Rx-Lx)*v/5;};
  const YL=function(v){return B-(B-T)*v/26;};
  const YR=function(v){return B-(B-T)*v/15;};
  const n=layers[0].length, w=5/n;
  for(let li=layers.length-1;li>=0;li--){
    const lg=mk('g',{},g);
    layers[li].forEach(function(v,i){
      if(v<=0)return;
      mk('rect',{x:X(i*w),y:YL(v),width:X((i+1)*w)-X(i*w),height:B-YL(v),fill:layerColors[li],stroke:'#1e2a30','stroke-width':0.9,'stroke-opacity':0.7},lg);
    });
  }
  const pts=function(arr){return arr.map(function(v,i){return X((i+0.5)*w)+','+YR(v);}).join(' ');};
  const sl=mk('polyline',{points:pts(R),fill:'none',stroke:'#ff5a5a','stroke-width':4,'stroke-linejoin':'round'},g);
  
  const dl=mk('polyline',{points:pts(S),fill:'none',stroke:'#ff5a5a','stroke-width':4,'stroke-dasharray':'15 9'},g);
  
  line(g,Lx,T,Rx,T,'#9a9a9a',1.4);
  line(g,Lx,B,Rx,B,'#262626',1.4);
  line(g,Lx,T,Lx,B,'#8fb6d6',1.6);
  line(g,Rx,T,Rx,B,'#f2a58a',1.6);
  histXTicks.forEach(function(v){
    line(g,X(v),T,X(v),T+9,'#555',1.4);
    txt(g,X(v),B+29,String(v),21,'middle');
  });
  histLeftTicks.forEach(function(v){line(g,Lx,YL(v),Lx+8,YL(v),'#0072bd',1.3);txt(g,Lx-12,YL(v)+7,String(v),21,'end','#0072bd');});
  histRightTicks.forEach(function(v){line(g,Rx,YR(v),Rx-8,YR(v),'#d95319',1.3);txt(g,Rx+14,YR(v)+7,String(v),21,'start','#d95319');});
  const xl=txt(g,X(2.5)+6,B+53,'r [cm]',20,'middle');
  const ly=(T+B)/2;
  const yl=mk('text',{x:Lx-40,y:ly,'font-size':21,'text-anchor':'middle',fill:'#0072bd',transform:'rotate(-90 '+(Lx-40)+' '+ly+')'},g);
  
  yl.appendChild(document.createTextNode('n [1 cm'));
  const sup=mk('tspan',{dy:-9,'font-size':15},yl);sup.textContent='-3';
  const cl=mk('tspan',{dy:9},yl);cl.textContent=']';
  const ry=txt(g,Rx+55,ly,'<R> [\u03bc m], <S> [\u03bc m]',21,'middle','#d95319',-90);
  
}
const eLayers=[eLow.concat(eL0tail),eLow.concat(eL1tail),eLow.concat(eL2tail),eLow.concat(eL3tail),eLow.concat(eL4tail)];
drawHist('panel-e-radial-histogram',[117,940,2001,2837],eLayers,eR,eS);
drawHist('panel-f-radial-histogram',[1171,2000,2001,2843],[fL0,fL1,fL2,fL3,fL4],fR,fS);
</script>
</body></html>
